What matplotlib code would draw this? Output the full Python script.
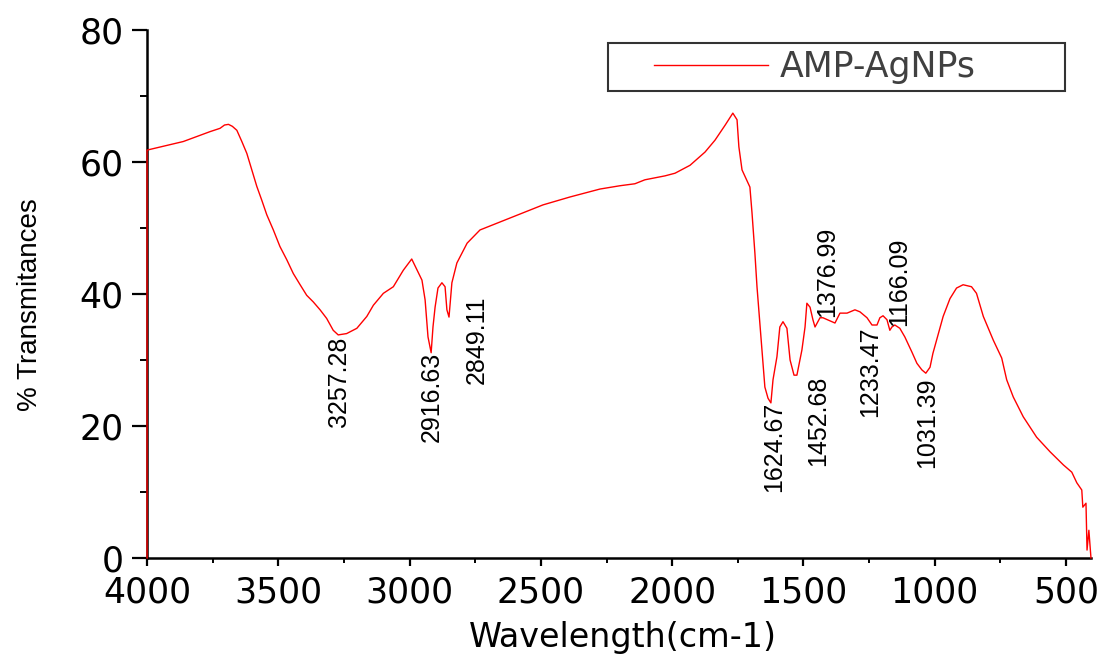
import matplotlib
matplotlib.use('Agg')
import matplotlib.pyplot as plt
from matplotlib.ticker import MultipleLocator
from matplotlib.legend_handler import HandlerLine2D

## FTIR spectrum (cm-1, % T)
wavenumber = [4000, 4000, 3862, 3760, 3722, 3705, 3690, 3675, 3658, 3639, 3620, 3601,
              3582, 3563, 3544, 3519, 3494, 3468, 3443, 3417, 3392, 3367, 3341, 3316,
              3291, 3272, 3240, 3201, 3163, 3138, 3100, 3062, 3024, 2992, 2953, 2941,
              2930, 2918, 2911, 2903, 2892, 2877, 2865, 2858, 2850, 2839, 2820, 2781,
              2732, 2656, 2580, 2492, 2389, 2275, 2199, 2142, 2104, 2027, 1989, 1932,
              1875, 1837, 1798, 1769, 1753, 1746, 1734, 1704, 1696, 1685, 1677, 1666,
              1658, 1647, 1635, 1624, 1616, 1601, 1590, 1578, 1563, 1551, 1536, 1525,
              1506, 1494, 1487, 1475, 1464, 1456, 1437, 1426, 1380, 1361, 1334, 1304,
              1285, 1258, 1239, 1220, 1209, 1197, 1182, 1171, 1163, 1152, 1133, 1114,
              1087, 1068, 1049, 1034, 1018, 1007, 993, 968, 942, 917, 892, 860,
              841, 815, 777, 745, 726, 701, 663, 612, 561, 510, 478, 459,
              440, 436, 424, 420, 413, 405]

transmittance = [0, 61.8, 63.1, 64.6, 65.1, 65.6, 65.7, 65.4, 64.8, 63.1, 61.3, 58.8,
                 56.3, 54.2, 52.0, 49.7, 47.2, 45.2, 43.1, 41.4, 39.8, 38.8, 37.6, 36.3,
                 34.5, 33.8, 34.0, 34.8, 36.6, 38.3, 40.1, 41.1, 43.6, 45.3, 42.1, 39.1,
                 33.5, 31.1, 35.0, 38.0, 40.9, 41.7, 41.1, 37.6, 36.5, 41.7, 44.7, 47.7,
                 49.7, 50.9, 52.1, 53.5, 54.7, 55.9, 56.4, 56.7, 57.3, 57.9, 58.3, 59.5,
                 61.5, 63.3, 65.6, 67.4, 66.4, 62.3, 58.8, 56.2, 52.3, 46.2, 41.1, 35.6,
                 31.5, 25.9, 24.2, 23.5, 27.0, 30.5, 35.0, 35.8, 34.8, 30.0, 27.7, 27.7,
                 31.5, 35.0, 38.6, 38.0, 36.1, 35.0, 36.4, 36.4, 35.6, 37.1, 37.1, 37.6,
                 37.3, 36.4, 35.3, 35.3, 36.4, 36.7, 36.1, 34.5, 35.0, 35.3, 34.8, 33.5,
                 31.2, 29.5, 28.5, 28.0, 28.9, 31.0, 33.0, 36.6, 39.3, 40.9, 41.4, 41.1,
                 40.1, 36.6, 33.0, 30.3, 27.0, 24.4, 21.4, 18.3, 16.1, 14.1, 13.0, 11.4,
                 10.3, 7.7, 8.3, 1.2, 4.2, 0]

peak_labels = ['3257.28', '2916.63', '2849.11', '1624.67', '1452.68',
               '1376.99', '1233.47', '1166.09', '1031.39']
label_x = [3269, 2915, 2743, 1612, 1445, 1411, 1247, 1136, 1030]
label_top = [33.5, 31.2, 39.8, 23.6, 27.7, 50.2, 35.0, 48.5, 27.3]

x_ticks = [4000, 3500, 3000, 2500, 2000, 1500, 1000, 500]
y_ticks = [0, 20, 40, 60, 80]

NARROW = ['Liberation Sans Narrow', 'Liberation Sans', 'DejaVu Sans']


def draw_spectrum(ax):

    line, = ax.plot(wavenumber, transmittance, color='#ff0000', lw=1.0,
                    label='AMP-AgNPs', clip_on=False, zorder=3)

    for s, x, y in zip(peak_labels, label_x, label_top):
        ax.text(x, y, s, rotation=90, ha='center', va='top',
                fontsize=18, family=NARROW, color='black')

    return line


def style_axes(ax):

    ax.set_xlim(4000, 405)
    ax.set_ylim(0, 80)
    ax.set_xticks(x_ticks)
    ax.set_yticks(y_ticks)
    ax.xaxis.set_minor_locator(MultipleLocator(250))
    ax.yaxis.set_minor_locator(MultipleLocator(10))

    for side in ['top', 'right']:
        ax.spines[side].set_visible(False)
    for side in ['left', 'bottom']:
        ax.spines[side].set_linewidth(1.8)

    ax.tick_params(axis='x', which='major', direction='out', length=6, width=1.6, pad=6.5)
    ax.tick_params(axis='x', which='minor', direction='out', length=3.6, width=1.4)
    ax.tick_params(axis='y', which='major', direction='out', length=10.8, width=1.6, pad=6)
    ax.tick_params(axis='y', which='minor', direction='out', length=5, width=1.4)

    for lab in ax.get_xticklabels() + ax.get_yticklabels():
        lab.set_fontsize(25)
        lab.set_family('DejaVu Sans')

    ax.set_xlabel('Wavelength(cm-1)', fontsize=24, family='DejaVu Sans')
    ax.xaxis.set_label_coords(0.504, -0.119)
    ax.set_ylabel('% Transmitances', fontsize=20, family=NARROW)
    ax.yaxis.set_label_coords(-0.110, 0.479)


def main():

    fig = plt.figure(figsize=(11.04, 6.56), dpi=100)
    ax = fig.add_axes([0.1332, 0.1494, 0.855, 0.8049])

    line = draw_spectrum(ax)
    style_axes(ax)

    leg = ax.legend(handles=[line], loc='upper left',
                    bbox_to_anchor=(0.4883, 0.8807, 0.4842, 0.0947),
                    mode='expand', borderaxespad=0, borderpad=0.2,
                    handlelength=4.4, handletextpad=0.35, fancybox=False,
                    framealpha=1, edgecolor='#333333', labelcolor='#404040',
                    prop={'family': 'DejaVu Sans', 'size': 25},
                    handler_map={line: HandlerLine2D(xpad=1.12)})
    leg.get_frame().set_linewidth(1.5)

    fig.savefig('out.png', dpi=100)


if __name__ == '__main__':
    main()
